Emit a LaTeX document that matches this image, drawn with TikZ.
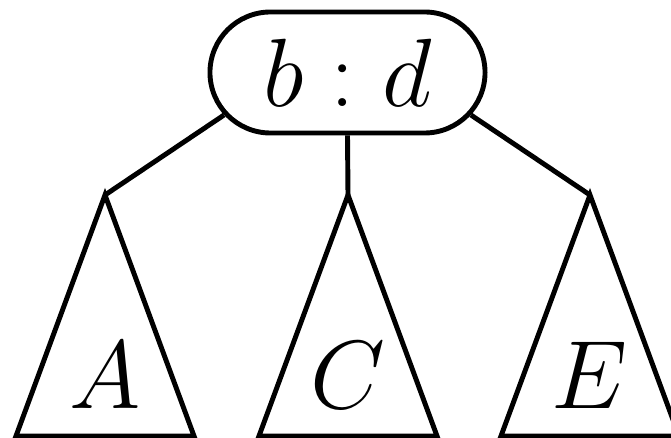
\documentclass[tikz,border=0pt]{standalone}
\usepackage{fix-cm}
\usetikzlibrary{shapes.misc}
\begin{document}
\begin{tikzpicture}[x=0.025cm,y=-0.025cm,line width=3.5pt,
    big/.style={font=\fontsize{69}{80}\selectfont},
    keynode/.style={rounded rectangle,draw,big,inner sep=0pt,minimum width=6.875cm,minimum height=3.025cm}]
  \useasboundingbox (0,0) rectangle (671,438);
  \node[keynode] (bd) at (347.5,72.5) {$b:d$};
  \foreach \x/\name/\lab in {105/A/A, 348/C/C, 590/E/E} {
    \coordinate (t\name) at (\x,195);
    \draw[line join=miter] (t\name) -- (\x-89,436) -- (\x+89,436) -- cycle;
    \node[big,anchor=base] (l\name) at (\x,409) {$\lab$};
  }
  \draw (bd.199) -- (tA);
  \draw (bd.south) -- (tC);
  \draw (bd.341) -- (tE);
\end{tikzpicture}
\end{document}
